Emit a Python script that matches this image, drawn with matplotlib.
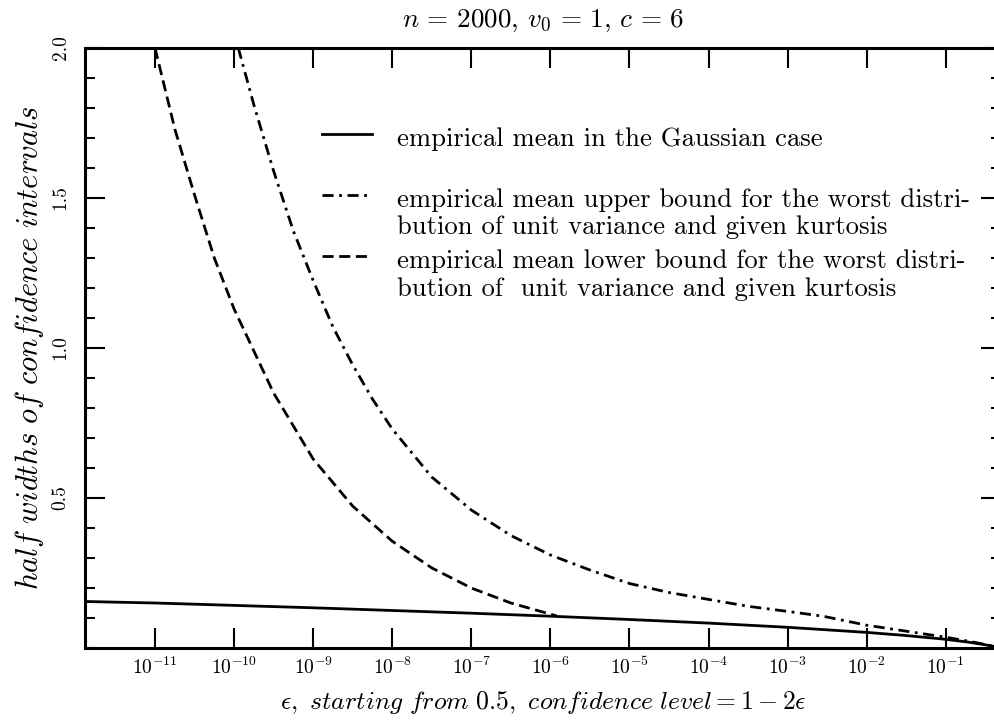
import matplotlib
matplotlib.use('Agg')
import matplotlib.pyplot as plt
from matplotlib.ticker import MultipleLocator, NullLocator

plt.rcParams['font.family'] = 'serif'
plt.rcParams['font.serif'] = ['cmr10']
plt.rcParams['mathtext.fontset'] = 'cm'
plt.rcParams['axes.formatter.use_mathtext'] = True

# values
eps_gauss = [1.3e-12, 1e-11, 1e-10, 1e-9, 1e-8, 1e-7, 1e-6, 1e-5, 1e-4, 1e-3,
             1e-2, 3e-2, 1e-1, 0.2, 0.3, 0.4, 0.5]
width_gauss = [0.155, 0.150, 0.142, 0.134, 0.125, 0.116, 0.106, 0.095, 0.083, 0.069,
               0.052, 0.042, 0.029, 0.019, 0.0117, 0.0057, 0.0]

eps_upper = [1.13e-10, 1.78e-10, 3.16e-10, 5.62e-10, 1e-9, 1.78e-9, 3.16e-9, 5.62e-9,
             1e-8, 3.16e-8, 1e-7, 3.16e-7, 1e-6, 3.16e-6, 1e-5, 3.16e-5, 1e-4,
             3.16e-4, 1e-3, 2.8e-3, 1e-2, 3.16e-2, 1e-1, 0.2, 0.3, 0.5]
width_upper = [2.0, 1.81, 1.59, 1.39, 1.225, 1.07, 0.944, 0.83,
               0.73, 0.57, 0.46, 0.375, 0.31, 0.26, 0.215, 0.185, 0.162,
               0.139, 0.122, 0.106, 0.076, 0.056, 0.036, 0.022, 0.013, 0.0]

eps_lower = [1e-11, 1.78e-11, 3.16e-11, 5.62e-11, 1e-10, 3.16e-10, 1e-9, 3.16e-9,
             1e-8, 3.16e-8, 1e-7, 3.16e-7, 1.2e-6]
width_lower = [2.0, 1.73, 1.51, 1.3, 1.13, 0.85, 0.63, 0.473,
               0.356, 0.267, 0.20, 0.15, 0.107]

xtick_exps = [-11, -10, -9, -8, -7, -6, -5, -4, -3, -2, -1]
ytick_vals = [0.5, 1.0, 1.5, 2.0]
ytick_labels = ['0.5', '1.0', '1.5', '2.0']

labels = [['empirical mean in the Gaussian case'],
          ['empirical mean upper bound for the worst distri-',
           'bution of unit variance and given kurtosis'],
          ['empirical mean lower bound for the worst distri-',
           'bution of  unit variance and given kurtosis']]

fig = plt.figure(figsize=(9.95, 7.22), dpi=100)
ax = fig.add_axes([0.0854, 0.1025, 0.9206, 0.831])

lw = 2.0
ax.plot(eps_lower, width_lower, color='black', lw=lw, dashes=(4, 2))
ax.plot(eps_upper, width_upper, color='black', lw=lw, dashes=(4, 2, 1, 2))
ax.plot(eps_gauss, width_gauss, color='black', lw=lw)

ax.set_xscale('log')
ax.set_xlim(1.3e-12, 0.5)
ax.set_ylim(0, 2.0)

ax.set_xticks([10.0 ** e for e in xtick_exps])
ax.set_xticklabels([r'$10^{%d}$' % e for e in xtick_exps])
ax.xaxis.set_minor_locator(NullLocator())
ax.set_yticks(ytick_vals)
ax.set_yticklabels(ytick_labels, rotation=90, va='center')
ax.yaxis.set_minor_locator(MultipleLocator(0.1))

ax.tick_params(which='both', direction='in', top=True, right=True, width=1.5)
ax.tick_params(which='major', length=14.5)
ax.tick_params(which='minor', length=7)
ax.tick_params(axis='x', labelsize=14, pad=6)
ax.tick_params(axis='y', labelsize=14, pad=11)
for s in ax.spines.values():
    s.set_linewidth(2.2)

ax.set_title(r'$n\,=\,2000,\,v_0\,=\,1,\,c\,=\,6$', fontsize=19.5, pad=15)
ax.set_xlabel(r'$\epsilon,\ \mathit{starting\ from\ 0.5,\ confidence\ level} = 1-2\epsilon$',
              fontsize=18.5, labelpad=8)
ax.set_ylabel(r'$\mathit{half\ widths\ of\ confidence\ intervals}$', fontsize=22, labelpad=4)

# hand-made legend: handle sits level with the first text line
handle_y = [0.856, 0.755, 0.654]
line_y = [[0.837], [0.7355, 0.6892], [0.633, 0.5875]]
styles = [dict(), dict(dashes=(4, 2, 1, 2)), dict(dashes=(4, 2))]
for hy, ys, lines, st in zip(handle_y, line_y, labels, styles):
    ax.plot([0.2587, 0.3133], [hy, hy], transform=ax.transAxes, color='black', lw=lw, **st)
    for ty, txt in zip(ys, lines):
        ax.text(0.3406, ty, txt, transform=ax.transAxes, fontsize=19.2,
                va='baseline', ha='left')

fig.savefig('out.png', dpi=100)
